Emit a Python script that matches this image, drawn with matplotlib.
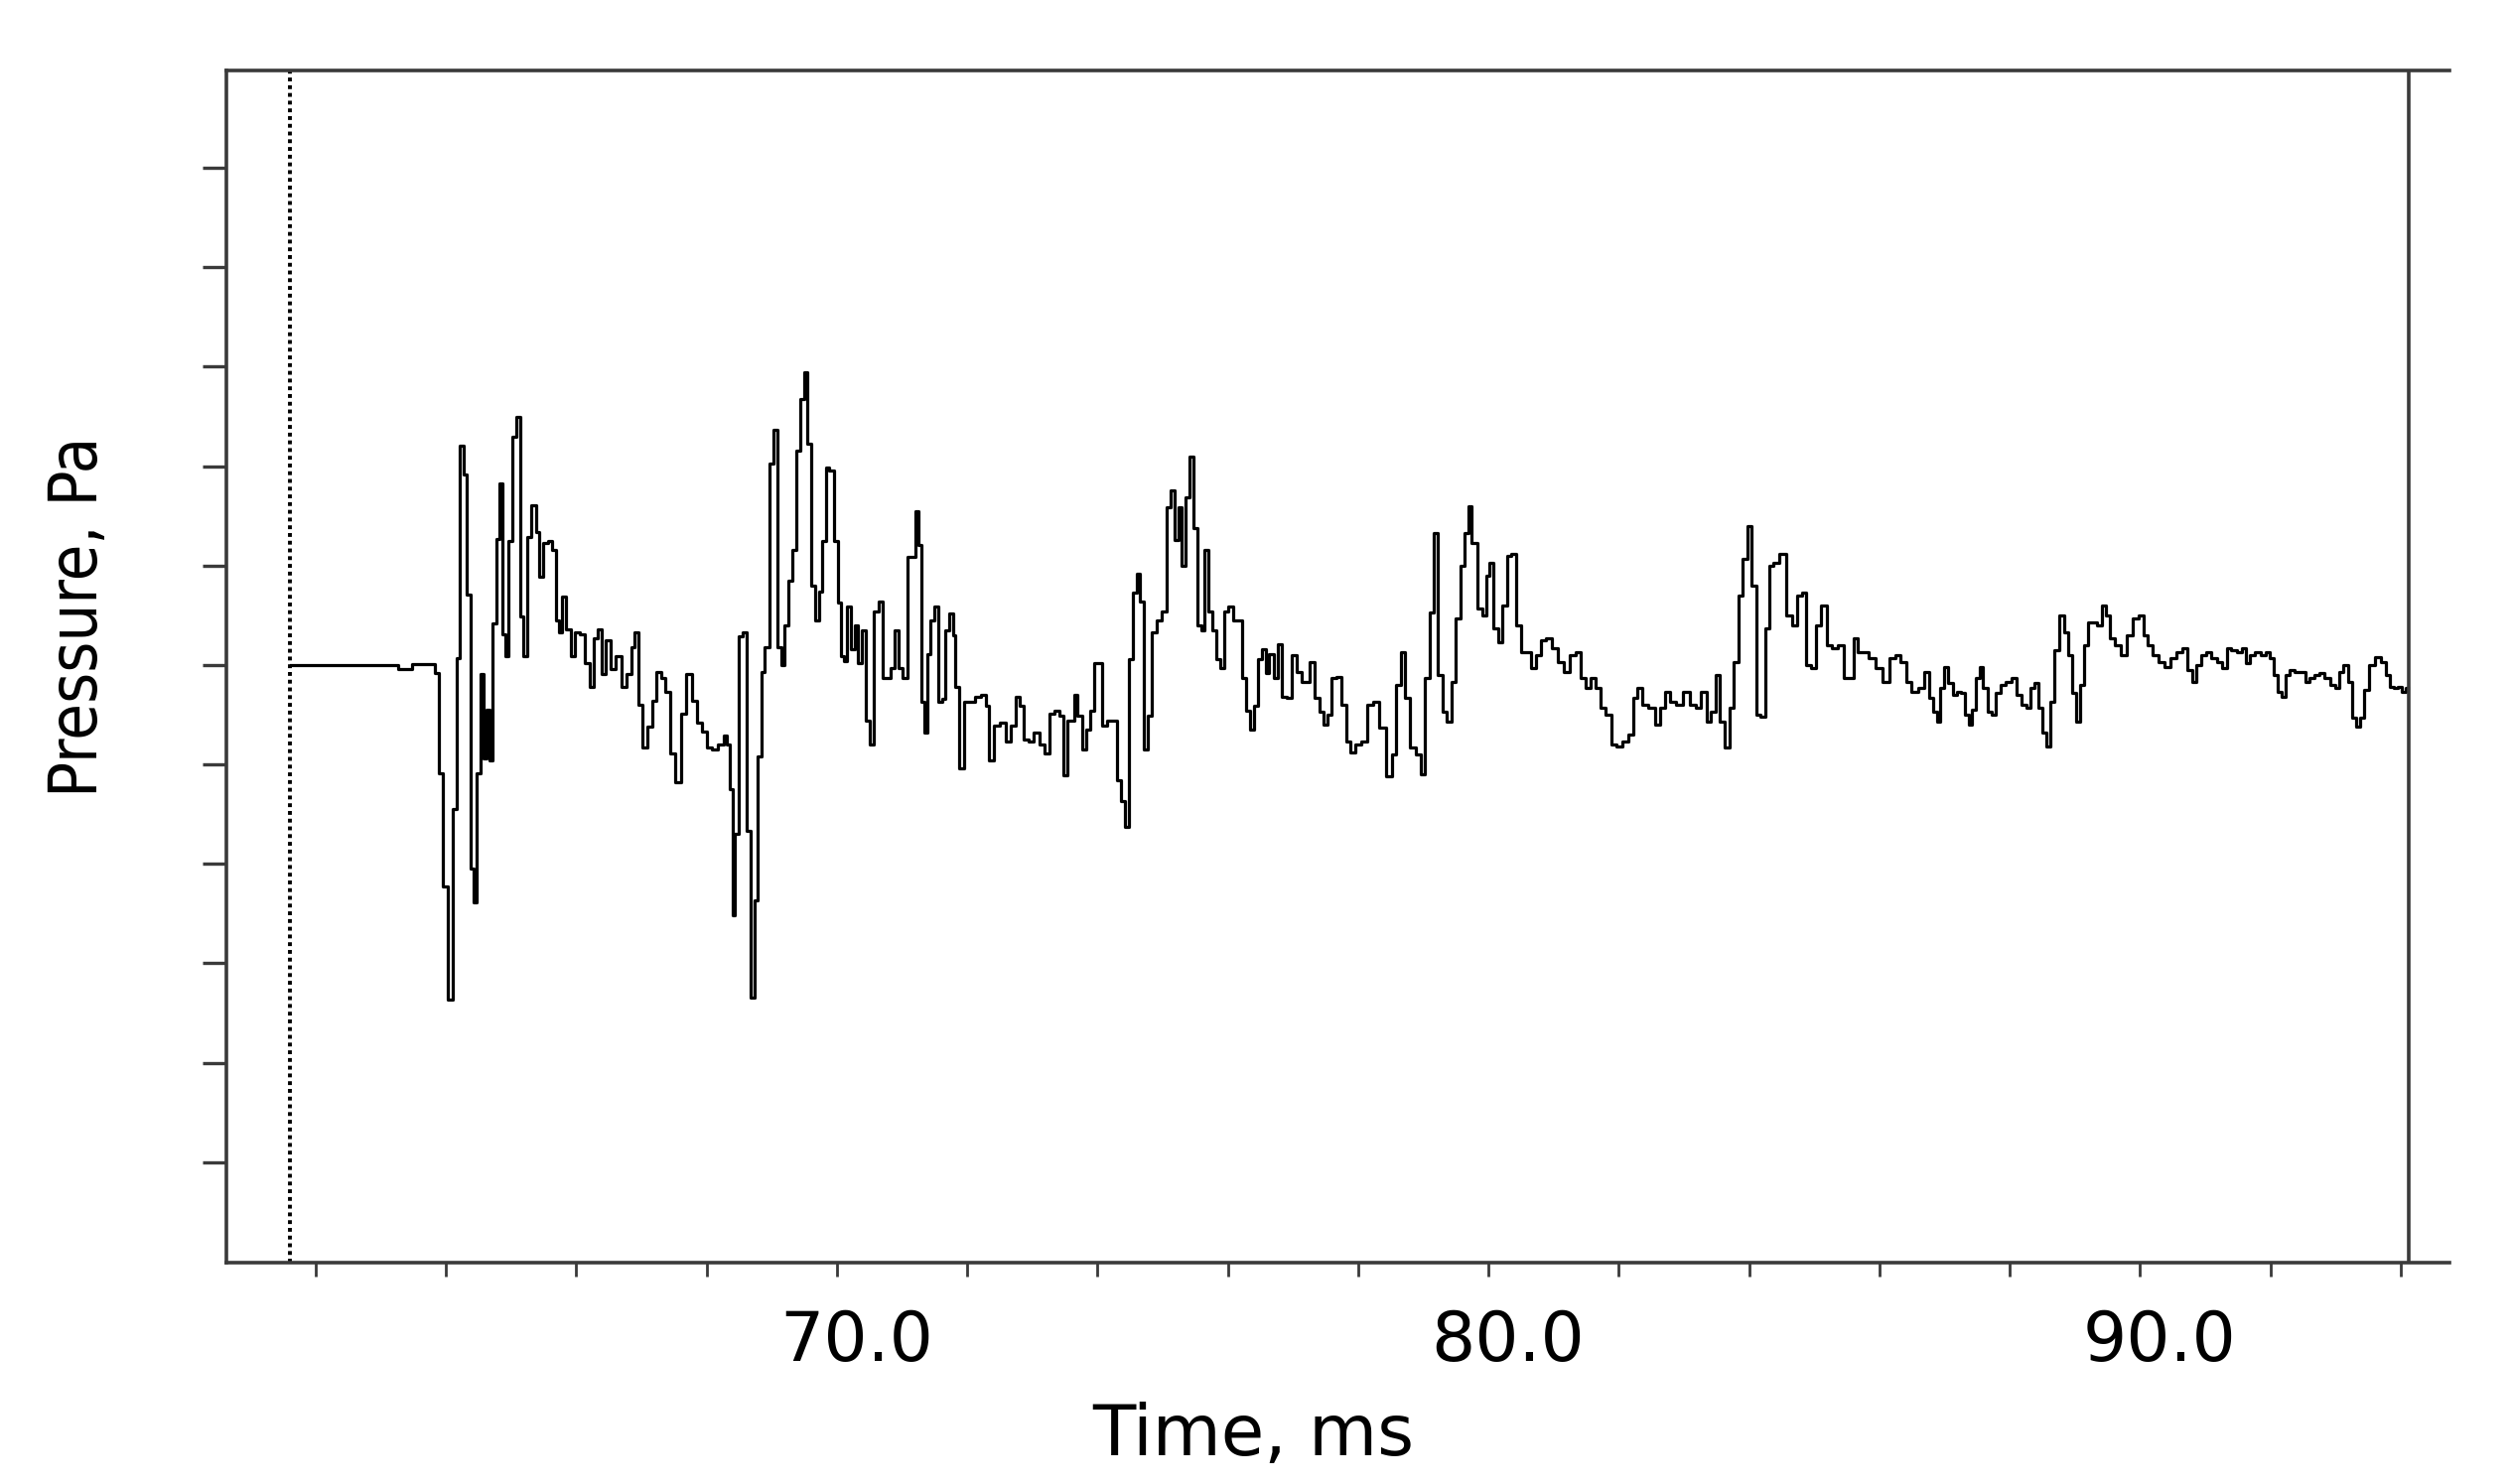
import numpy as np
import matplotlib
matplotlib.use("Agg")
import matplotlib.pyplot as plt
import matplotlib.transforms as mtransforms

# --- donnees (temps en ms, pression en unites relatives) ---
time_ms = [
    61.617, 63.209, 63.326, 63.442, 63.530, 63.792, 63.868, 63.920, 63.996, 64.066,
    64.142, 64.188, 64.247, 64.299, 64.346, 64.404, 64.445, 64.503, 64.556, 64.608,
    64.649, 64.696, 64.742, 64.795, 64.842, 64.888, 64.941, 64.987, 65.046, 65.104,
    65.162, 65.221, 65.279, 65.349, 65.407, 65.465, 65.524, 65.600, 65.658, 65.705,
    65.757, 65.815, 65.879, 65.949, 66.008, 66.095, 66.171, 66.241, 66.299, 66.358,
    66.416, 66.492, 66.562, 66.649, 66.737, 66.812, 66.871, 66.923, 66.981, 67.057,
    67.133, 67.191, 67.261, 67.337, 67.407, 67.477, 67.565, 67.640, 67.728, 67.815,
    67.891, 67.961, 68.037, 68.136, 68.223, 68.293, 68.323, 68.381, 68.416, 68.457,
    68.527, 68.591, 68.643, 68.707, 68.766, 68.807, 68.865, 68.923, 68.993, 69.051,
    69.116, 69.174, 69.221, 69.285, 69.361, 69.401, 69.465, 69.518, 69.576, 69.623,
    69.699, 69.751, 69.809, 69.856, 69.914, 69.984, 70.043, 70.089,
    70.124, 70.183, 70.241, 70.299, 70.357, 70.416, 70.474, 70.532, 70.608, 70.678,
    70.736, 70.795, 70.853, 70.911, 70.970, 71.057, 71.115, 71.174, 71.232, 71.273,
    71.320, 71.360, 71.407, 71.465, 71.524, 71.582, 71.640, 71.699, 71.757, 71.798,
    71.844, 71.903, 71.990, 72.078, 72.165, 72.252, 72.311, 72.369, 72.457, 72.544,
    72.631, 72.719, 72.777, 72.836, 72.894, 72.981, 73.069, 73.156, 73.226, 73.302,
    73.390, 73.448, 73.506, 73.564, 73.623, 73.669, 73.722, 73.798, 73.856, 73.914,
    73.973, 74.031, 74.107, 74.177, 74.264, 74.322, 74.398, 74.451, 74.515, 74.567,
    74.626, 74.684, 74.742, 74.801, 74.859, 74.946, 75.034, 75.092, 75.150, 75.209,
    75.267, 75.325, 75.384, 75.442, 75.500, 75.559, 75.617, 75.675, 75.734, 75.792,
    75.850, 75.908, 75.967, 76.043, 76.113, 76.188, 76.258, 76.317, 76.375, 76.433,
    76.492, 76.550, 76.608, 76.666, 76.742, 76.801, 76.871,
    76.950, 77.018, 77.100, 77.168, 77.236, 77.290, 77.372, 77.440, 77.495, 77.563,
    77.631, 77.699, 77.780, 77.848, 77.903, 78.005, 78.093, 78.175, 78.277, 78.379,
    78.481, 78.549, 78.617, 78.685, 78.753, 78.835, 78.923, 78.991, 79.059, 79.127,
    79.195, 79.250, 79.331, 79.399, 79.467, 79.535, 79.603, 79.671, 79.719, 79.773,
    79.875, 79.943, 79.991, 80.046, 80.114, 80.182, 80.250, 80.318, 80.386, 80.454,
    80.535, 80.624, 80.692, 80.760, 80.841, 80.930, 81.032, 81.114, 81.202, 81.304,
    81.372, 81.454, 81.522, 81.610, 81.678, 81.760, 81.848, 81.930, 81.998, 82.120,
    82.188, 82.256, 82.324, 82.406, 82.508, 82.597, 82.665, 82.746, 82.835, 82.937,
    83.039, 83.141, 83.222, 83.311, 83.379, 83.447, 83.515, 83.583, 83.665, 83.733,
    83.801, 83.869, 83.937, 84.005, 84.073, 84.141, 84.209, 84.277, 84.345, 84.413,
    84.515, 84.617, 84.705, 84.773, 84.841, 84.923, 84.991, 85.059, 85.148, 85.229,
    85.318, 85.420, 85.501, 85.569, 85.637, 85.705, 85.794, 85.875, 85.998, 86.100,
    86.202, 86.284, 86.372, 86.454, 86.542, 86.644, 86.726, 86.794, 86.869,
    86.904, 86.965, 87.027, 87.088, 87.162, 87.223, 87.284, 87.345, 87.395, 87.456,
    87.517, 87.560, 87.621, 87.701, 87.762, 87.824, 87.897, 87.977, 88.069, 88.143,
    88.222, 88.284, 88.345, 88.406, 88.468, 88.529, 88.590, 88.651, 88.713, 88.805,
    88.866, 88.927, 88.989, 89.050, 89.111, 89.173, 89.234, 89.307, 89.387, 89.449,
    89.510, 89.571, 89.663, 89.755, 89.847, 89.939, 90.013, 90.092, 90.154, 90.246,
    90.338, 90.430, 90.521, 90.613, 90.675, 90.767, 90.828, 90.889, 90.981, 91.043,
    91.135, 91.227, 91.306, 91.368, 91.441, 91.533, 91.594, 91.656, 91.717, 91.809,
    91.901, 91.962, 92.024, 92.085, 92.146, 92.189, 92.269, 92.330, 92.422, 92.496,
    92.575, 92.637, 92.729, 92.790, 92.882, 92.974, 93.035, 93.097, 93.158, 93.219,
    93.280, 93.342, 93.403, 93.464, 93.556, 93.648, 93.740, 93.802, 93.863, 93.924,
    93.986, 94.047, 94.108,
]

pressure = [
    0.000, 0.000, -0.036, -0.036, 0.009, 0.009, -0.080, -1.092, -2.228, -3.365,
    -1.448, 0.067, 2.206, 1.916, 0.713, -2.050, -2.384, -1.092, -0.089, -0.936,
    -0.446, -0.958, 0.423, 1.270, 1.827, 0.312, 0.089, 1.248, 2.295, 2.496,
    0.490, 0.089, 1.292, 1.604, 1.337, 0.891, 1.225, 1.248, 1.159, 0.446,
    0.334, 0.691, 0.357, 0.089, 0.334, 0.312, 0.022, -0.223, 0.267, 0.357,
    -0.089, 0.245, -0.045, 0.089, -0.223, -0.089, 0.178, 0.334, -0.401, -0.824,
    -0.624, -0.357, -0.067, -0.134, -0.267, -0.891, -1.181, -0.490, -0.089, -0.357,
    -0.579, -0.668, -0.824, -0.847, -0.802, -0.713, -0.802, -1.248, -2.518, -1.693,
    0.290, 0.334, -1.671, -3.342, -2.362, -0.914, -0.067, 0.178, 2.028, 2.362,
    0.178, 0.000, 0.401, 0.847, 1.159, 2.161, 2.674, 2.941, 2.228, 0.802,
    0.446, 0.735, 1.248, 1.983, 1.961, 1.248, 0.624, 0.089,
    0.040, 0.589, 0.159, 0.398, 0.016, 0.350, -0.557, -0.796, 0.541, 0.637,
    -0.127, -0.127, -0.032, 0.350, -0.032, -0.127, 1.090, 1.090, 1.544, 1.210,
    -0.366, -0.677, 0.111, 0.446, 0.589, -0.366, -0.342, 0.350, 0.517, 0.302,
    -0.223, -1.035, -0.366, -0.366, -0.318, -0.295, -0.414, -0.963, -0.605, -0.581,
    -0.772, -0.605, -0.318, -0.414, -0.748, -0.772, -0.677, -0.796, -0.892, -0.486,
    -0.462, -0.509, -1.106, -0.557, -0.557, -0.295, -0.509, -0.844, -0.653, -0.462,
    0.016, 0.016, -0.605, -0.557, -0.557, -1.154, -1.369, -1.632, 0.064, 0.732,
    0.923, 0.637, -0.844, -0.509, 0.326, 0.446, 0.541, 1.592, 1.759, 1.257,
    1.592, 0.995, 1.687, 2.093, 1.377, 0.398, 0.350, 1.162, 0.541, 0.350,
    0.064, -0.032, 0.541, 0.589, 0.446, 0.446, -0.127, -0.462, -0.653, -0.414,
    0.064, 0.159, -0.080, 0.111, -0.127, 0.207, -0.318,
    -0.332, 0.100, -0.066, -0.166, -0.166, 0.034, -0.332, -0.465, -0.598, -0.499,
    -0.133, -0.116, -0.399, -0.765, -0.881, -0.798, -0.765, -0.399, -0.366, -0.632,
    -1.114, -0.898, -0.199, 0.133, -0.332, -0.831, -0.898, -1.097, -0.133, 0.533,
    1.331, -0.099, -0.465, -0.565, -0.166, 0.466, 0.998, 1.331, 1.597, 1.231,
    0.566, 0.499, 0.899, 1.032, 0.366, 0.233, 0.599, 1.098, 1.115, 0.400,
    0.133, 0.133, -0.033, 0.100, 0.250, 0.266, 0.167, 0.034, -0.066, 0.100,
    0.133, -0.133, -0.232, -0.133, -0.232, -0.432, -0.499, -0.798, -0.815, -0.765,
    -0.698, -0.332, -0.232, -0.399, -0.432, -0.598, -0.432, -0.266, -0.366, -0.399,
    -0.266, -0.399, -0.432, -0.266, -0.565, -0.465, -0.099, -0.565, -0.831, -0.432,
    0.034, 0.699, 1.065, 1.398, 0.799, -0.499, -0.515, 0.366, 0.998, 1.032,
    1.115, 0.499, 0.400, 0.699, 0.732, 0.000, -0.033, 0.400, 0.599, 0.200,
    0.167, 0.200, -0.133, -0.133, 0.266, 0.133, 0.133, 0.067, -0.033, -0.166,
    0.067, 0.100, 0.034, -0.166, -0.266, -0.232, -0.066, -0.332, -0.465,
    -0.565, -0.232, -0.016, -0.183, -0.299, -0.266, -0.282, -0.499, -0.598, -0.449,
    -0.133, -0.016, -0.232, -0.465, -0.499, -0.282, -0.199, -0.166, -0.133, -0.299,
    -0.399, -0.432, -0.232, -0.183, -0.432, -0.682, -0.815, -0.366, 0.150, 0.499,
    0.333, 0.100, -0.282, -0.565, -0.199, 0.200, 0.433, 0.433, 0.400, 0.599,
    0.499, 0.267, 0.200, 0.100, 0.300, 0.466, 0.499, 0.300, 0.200, 0.100,
    0.034, -0.016, 0.067, 0.133, 0.167, -0.050, -0.166, 0.000, 0.100, 0.133,
    0.067, 0.034, -0.033, 0.167, 0.150, 0.133, 0.167, 0.017, 0.100, 0.133,
    0.100, 0.133, 0.067, -0.099, -0.266, -0.316, -0.099, -0.050, -0.066, -0.066,
    -0.166, -0.133, -0.099, -0.083, -0.133, -0.199, -0.232, -0.066, 0.000, -0.166,
    -0.532, -0.615, -0.532, -0.249, 0.000, 0.084, 0.034, -0.099, -0.216, -0.232,
    -0.216, -0.266, -0.232,
]

TRIGGER_MS = 61.604   # ligne pointillee (declenchement)
CURSOR_MS = 94.13     # curseur vertical a droite

xtick_pos = [62, 64, 66, 68, 70, 72, 74, 76, 78, 80, 82, 84, 86, 88, 90, 92, 94]
xtick_txt = ['', '', '', '', '70.0', '', '', '', '', '80.0', '', '', '', '', '90.0', '', '']
ytick_pos = [-5, -4, -3, -2, -1, 0, 1, 2, 3, 4, 5]

AXIS_COLOR = '#3a3a3a'

fig = plt.figure(figsize=(25.31, 14.95), dpi=100)
ax = fig.add_axes([0.0901, 0.1492, 0.8846, 0.8033])

ax.plot(time_ms, pressure, drawstyle='steps-mid', color='black', linewidth=2.3)
ax.axvline(TRIGGER_MS, color='black', linestyle=(0, (1, 1)), linewidth=2.8)
ax.axvline(CURSOR_MS, color=AXIS_COLOR, linewidth=2.6)

ax.set_xlim(60.63, 94.75)
ax.set_ylim(-6.01, 5.98)

ax.spines['right'].set_visible(False)
for side in ['left', 'top', 'bottom']:
    ax.spines[side].set_color(AXIS_COLOR)
    ax.spines[side].set_linewidth(2.6)

ax.set_xticks(xtick_pos)
ax.set_xticklabels(xtick_txt, fontsize=50, family='DejaVu Sans')
ax.set_yticks(ytick_pos)
ax.set_yticklabels([])
ax.tick_params(axis='x', direction='out', length=10, width=2.0, color=AXIS_COLOR, pad=23)
ax.tick_params(axis='y', direction='out', length=17, width=2.4, color=AXIS_COLOR)

# petit decalage des etiquettes vers la droite, comme sur l'original
shift = mtransforms.ScaledTranslation(0.2, 0, fig.dpi_scale_trans)
for lbl in ax.get_xticklabels():
    lbl.set_transform(lbl.get_transform() + shift)

ax.set_xlabel('Time, ms', fontsize=51, family='DejaVu Sans')
ax.xaxis.set_label_coords(0.462, -0.117)
ax.set_ylabel('Pressure, Pa', fontsize=48, family=['Liberation Sans Narrow', 'DejaVu Sans'],
              fontstretch='condensed')
ax.yaxis.set_label_coords(-0.052, 0.542)

fig.savefig('out.png', dpi=100)
